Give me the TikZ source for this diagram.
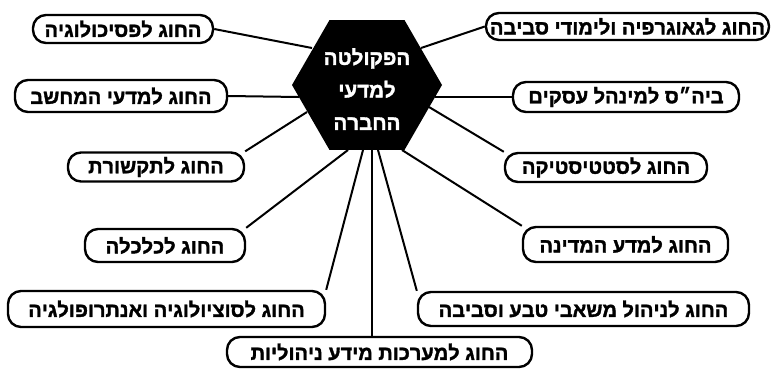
\documentclass[tikz,border=0pt]{standalone}
\usepackage{fontspec}
\setmainfont{Liberation Sans}[BoldFeatures={FakeBold=1.6}]
\TeXXeTstate=1
\usetikzlibrary{shapes.geometric,backgrounds}
\newcommand{\heb}[1]{\beginR #1\endR}
\tikzset{
  dept/.style={draw,line width=2.4pt,rounded corners=13pt,fill=white,inner sep=0pt,
    minimum height=29pt,font=\bfseries\fontsize{20}{20}\selectfont},
  link/.style={line width=2pt},
  faculty/.style={regular polygon,regular polygon sides=6,fill=black,minimum size=150pt,inner sep=0pt},
  facultytext/.style={text=white,align=center,font=\bfseries\fontsize{20.5}{32.5}\selectfont}
}
\begin{document}
\begin{tikzpicture}[x=1pt,y=-1pt]
\useasboundingbox (0,0) rectangle (772,368);
\node[faculty] (hex) at (367,85) {};
\node[facultytext] (hext) at (367,89) {\heb{הפקולטה}\\\heb{למדעי}\\\heb{החברה}};
% left side
\node[dept,minimum width=180pt,minimum height=28pt] (psy) at (123,29) {\heb{החוג לפסיכולוגיה}};
\node[dept,minimum width=212pt,minimum height=32pt] (cs) at (121,96) {\heb{החוג למדעי המחשב}};
\node[dept,minimum width=176pt] (comm) at (156,167) {\heb{החוג לתקשורת}};
\node[dept,minimum width=160pt,minimum height=33pt] (econ) at (165,245.5) {\heb{החוג לכלכלה}};
\node[dept,minimum width=317pt,minimum height=36pt] (soc) at (166.5,309) {\heb{החוג לסוציולוגיה ואנתרופולגיה}};
% right side
\node[dept,minimum width=283pt,minimum height=27pt] (geo) at (627.5,26.5) {\heb{החוג לגאוגרפיה ולימודי סביבה}};
\node[dept,minimum width=226pt,minimum height=30pt] (bus) at (626,97) {\heb{ביה״ס למינהל עסקים}};
\node[dept,minimum width=202pt] (stat) at (606,167.5) {\heb{החוג לסטטיסטיקה}};
\node[dept,minimum width=205pt,minimum height=35pt] (pol) at (625.5,244.5) {\heb{החוג למדע המדינה}};
\node[dept,minimum width=331pt,minimum height=34pt] (nat) at (583.5,309) {\heb{החוג לניהול משאבי טבע וסביבה}};
\node[dept,minimum width=305pt,minimum height=30pt] (mis) at (379.5,352) {\heb{החוג למערכות מידע ניהוליות}};
% points on the hexagon
\coordinate (h-psy) at (312,48);
\coordinate (h-cs) at (299,97);
\coordinate (h-comm) at (307,112);
\coordinate (h-econ) at (348,150);
\coordinate (h-soc) at (363,150);
\coordinate (h-mis) at (372,150);
\coordinate (h-nat) at (378,150);
\coordinate (h-pol) at (402,150);
\coordinate (h-stat) at (429,107);
\coordinate (h-bus) at (435,97);
\coordinate (h-geo) at (421,48);
\begin{scope}[on background layer]
\draw[link] (psy.east) -- (h-psy);
\draw[link] (cs.east) -- (h-cs);
\draw[link] (comm.north east) -- (h-comm);
\draw[link] (econ.north east) -- (h-econ);
\draw[link] (soc.north east) -- (h-soc);
\draw[link] (h-mis) -- (h-mis |- mis.north);
\draw[link] (nat.north west) -- (h-nat);
\draw[link] (pol.north west) -- (h-pol);
\draw[link] (stat.north west) -- (h-stat);
\draw[link] (bus.west) -- (h-bus);
\draw[link] (geo.west) -- (h-geo);
\end{scope}
\end{tikzpicture}
\end{document}
